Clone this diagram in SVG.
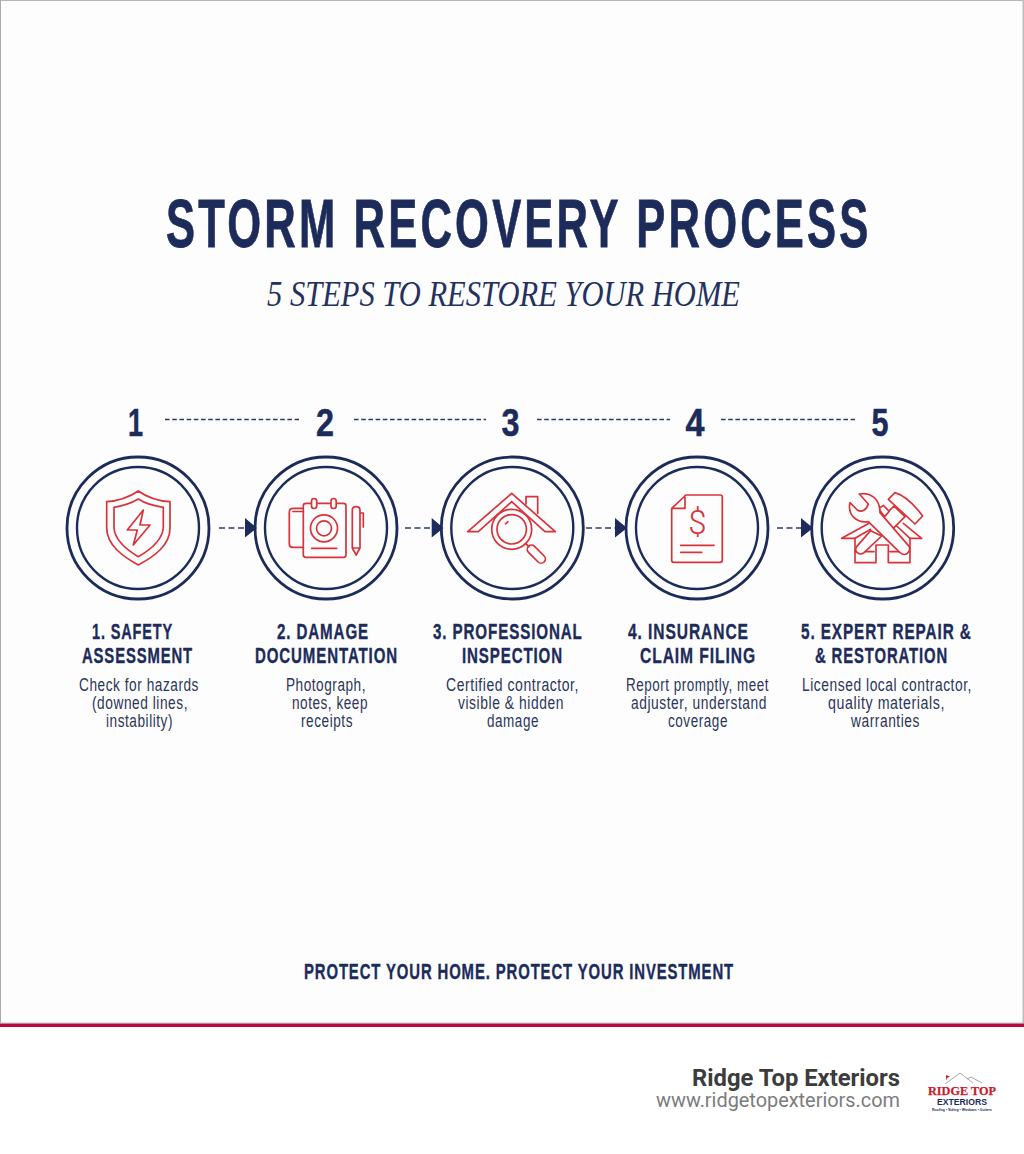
<svg xmlns="http://www.w3.org/2000/svg" width="1024" height="1154" viewBox="0 0 1024 1154">
<defs>
<style>
text{font-family:"Liberation Sans",Arial,sans-serif;fill:#1c2b5a}
.h{font-weight:700;font-size:22px;letter-spacing:1.3px;stroke:#1c2b5a;stroke-width:.35px}
.b{font-size:17.500px;letter-spacing:.7px;fill:#2b3659}
.n{font-weight:700;font-size:39px;stroke:#1c2b5a;stroke-width:.5px}
.o{fill:none;stroke:#1c2b5a;stroke-width:2.8}
.i{fill:none;stroke:#1c2b5a;stroke-width:2.4}
.r{fill:none;stroke:#d9333a;stroke-width:1.7;stroke-linejoin:round;stroke-linecap:round}
.t{fill:none;stroke:#d9333a;stroke-width:5;stroke-linejoin:round;stroke-linecap:round}
.d{fill:none;stroke:#2c3a66;stroke-width:1.3;stroke-dasharray:4.6 2.6}
.a{fill:none;stroke:#2c3a66;stroke-width:1.6;stroke-dasharray:6 3.5}
.ah{fill:#1c2b5a}
</style>
</defs>
<rect width="1024" height="1154" fill="#ffffff"/>
<rect width="1024" height="1024" fill="#fdfdfe"/>
<g id="frame">
<rect x="0" y="0" width="1024" height="1" fill="#b4b6b8"/>
<rect x="0" y="0" width="1" height="1023" fill="#a9abad"/>
<rect x="1022.5" y="0" width="1.5" height="1023" fill="#bcbdbe"/>
<rect x="0" y="1022.6" width="1024" height="1" fill="#b4b6b8"/>
<rect x="0" y="1023.6" width="1024" height="3.4" fill="#b8093f"/>
</g>
<g id="heading">
<text transform="translate(166 247) scale(.64 1)" font-size="68" font-weight="700" style="letter-spacing:5px;stroke:#1c2b5a;stroke-width:.8px">STORM RECOVERY PROCESS</text>
<text x="267" y="306" font-size="35" font-style="italic" textLength="473" lengthAdjust="spacingAndGlyphs" style="font-family:'Liberation Serif','Times New Roman',serif;fill:#24315f">5 STEPS TO RESTORE YOUR HOME</text>
</g>
<g id="step-1">
<text class="n" x="128" y="436" textLength="15" lengthAdjust="spacingAndGlyphs">1</text>
<circle class="o" cx="138" cy="528" r="71"/><circle class="i" cx="138" cy="528" r="61"/>
<path class="r" d="M138.3 491C128 498 118 501 106.7 501.7V528C107 545 122 556 138.3 565C155 556 170 545 170 528V501.7C158 501 148 498 138.3 491Z"/>
<path class="r" d="M138.3 499C130 504 122 506 114 507.3V528C115 541 127 550 138.3 556.7C150 550 162 541 163.3 528V507.3C154 506 146 504 138.3 499Z"/>
<path class="r" d="M143.3 510L127.3 530H137.3L133.3 545L150 525H140Z"/>
<text class="h" x="92" y="639" textLength="81" lengthAdjust="spacingAndGlyphs">1. SAFETY</text>
<text class="h" x="82" y="663" textLength="111" lengthAdjust="spacingAndGlyphs">ASSESSMENT</text>
<text class="b" x="79" y="691" textLength="120" lengthAdjust="spacingAndGlyphs">Check for hazards</text>
<text class="b" x="92" y="709" textLength="96" lengthAdjust="spacingAndGlyphs">(downed lines,</text>
<text class="b" x="106" y="727" textLength="67" lengthAdjust="spacingAndGlyphs">instability)</text>
</g>
<g id="step-2">
<text class="n" x="316" y="436" textLength="18" lengthAdjust="spacingAndGlyphs">2</text>
<circle class="o" cx="326" cy="528" r="71"/><circle class="i" cx="326" cy="528" r="61"/>
<rect class="r" x="303.3" y="503.3" width="42.7" height="54" rx="2.5"/>
<rect class="r" x="311.5" y="498.5" width="5.2" height="10" rx="2.6" style="fill:#fdfdfe"/>
<rect class="r" x="331" y="498.5" width="5.2" height="10" rx="2.6" style="fill:#fdfdfe"/>
<circle class="r" cx="324" cy="528.3" r="13.5"/><circle class="r" cx="324" cy="528.3" r="7.5"/>
<path class="r" d="M311.7 548.3H336.7"/>
<path class="r" d="M303.3 547.3H292.5Q289.3 547.3 289.3 544V512Q289.3 508.3 293 508.3H303.3M293 511.5H303.3"/>
<path class="r" d="M352.3 548V510.5Q352.3 506.7 356.2 506.7Q360 506.7 360 510.5V548L356.2 555ZM352.3 548H360M360 513H363.3V527"/>
<text class="h" x="277" y="639" textLength="92" lengthAdjust="spacingAndGlyphs">2. DAMAGE</text>
<text class="h" x="255" y="663" textLength="143" lengthAdjust="spacingAndGlyphs">DOCUMENTATION</text>
<text class="b" x="286" y="691" textLength="80" lengthAdjust="spacingAndGlyphs">Photograph,</text>
<text class="b" x="292" y="709" textLength="76" lengthAdjust="spacingAndGlyphs">notes, keep</text>
<text class="b" x="301" y="727" textLength="52" lengthAdjust="spacingAndGlyphs">receipts</text>
</g>
<g id="step-3">
<text class="n" x="501.500" y="436" textLength="18" lengthAdjust="spacingAndGlyphs">3</text>
<circle class="o" cx="512.300" cy="528" r="71"/><circle class="i" cx="512.300" cy="528" r="61"/>
<path class="r" d="M511.7 493.300L467.700 531.700H478.300L511.700 501.700L545 531.700H555.300Z"/>
<path class="r" d="M526 504V496.700H537.700V513.300"/>
<circle class="r" cx="511.700" cy="529.300" r="20" style="fill:#fdfdfe"/><circle class="r" cx="511.700" cy="529.300" r="14.700"/>
<path class="r" d="M525.500 543.500L529 546.700"/>
<rect class="r" x="525.500" y="550" width="22" height="8.500" rx="4.200" transform="rotate(45 536.500 554)"/>
<path class="r" d="M508 521.700L505.500 523.800"/>
<text class="h" transform="translate(433 639) scale(.689 1)">3. PROFESSIONAL</text>
<text class="h" x="462" y="663" textLength="101" lengthAdjust="spacingAndGlyphs">INSPECTION</text>
<text class="b" x="446" y="691" textLength="133" lengthAdjust="spacingAndGlyphs">Certified contractor,</text>
<text class="b" x="458" y="709" textLength="106" lengthAdjust="spacingAndGlyphs">visible &amp; hidden</text>
<text class="b" x="487" y="727" textLength="52" lengthAdjust="spacingAndGlyphs">damage</text>
</g>
<g id="step-4">
<text class="n" x="685.500" y="436" textLength="19" lengthAdjust="spacingAndGlyphs">4</text>
<circle class="o" cx="697" cy="528" r="71"/><circle class="i" cx="697" cy="528" r="61"/>
<path class="r" d="M686 495H720.300Q722.300 495 722.300 497V560.300Q722.300 562.300 720.300 562.300H673.700Q671.700 562.300 671.700 560.300V508.300ZM671.700 508.300H685V495.500"/>
<text x="697.300" y="534" font-size="33" text-anchor="middle" style="font-family:Roboto,'Liberation Sans',sans-serif;font-weight:300;fill:#d9333a">$</text>
<path class="r" d="M680.700 545.300H714M680.700 552.300H701.700"/>
<text class="h" transform="translate(628 639) scale(.708 1)">4. INSURANCE</text>
<text class="h" x="640" y="663" textLength="116" lengthAdjust="spacingAndGlyphs">CLAIM FILING</text>
<text class="b" x="626" y="691" textLength="143" lengthAdjust="spacingAndGlyphs">Report promptly, meet</text>
<text class="b" x="631" y="709" textLength="136" lengthAdjust="spacingAndGlyphs">adjuster, understand</text>
<text class="b" x="668" y="727" textLength="60" lengthAdjust="spacingAndGlyphs">coverage</text>
</g>
<g id="step-5">
<text class="n" x="871.500" y="436" textLength="17" lengthAdjust="spacingAndGlyphs">5</text>
<circle class="o" cx="882.700" cy="528" r="71"/><circle class="i" cx="882.700" cy="528" r="61"/>
<g transform="translate(740 400) scale(.3333)">
<path class="t" d="M390 368L305 415H345V488H408V435H445V488H510V415H545L490 370"/>
<path class="t" d="M345 415L392 388M510 415L470 378M345 455H402M450 455H510"/>
<path class="t" style="fill:#fdfdfe" d="M392 392L350 440Q343 450 352 458Q362 466 372 458L425 408Z"/>
<path class="t" style="fill:#fdfdfe" d="M462 318L425 355L460 385L495 350Z"/>
<path class="t" style="fill:#fdfdfe" d="M416 326L430 316L448 334L434 350Z"/>
<path class="t" style="fill:#fdfdfe" d="M445 298L465 278Q505 290 548 348L525 372Z"/>
<path class="t" style="fill:#fdfdfe" d="M358 282C390 276 420 295 420 338L508 440Q512 452 502 460Q492 468 480 458L385 365C350 370 322 345 330 308L352 330C365 338 380 330 385 312Z"/>
</g>
<text class="h" transform="translate(801 639) scale(.696 1)">5. EXPERT REPAIR &amp;</text>
<text class="h" x="815" y="663" textLength="133" lengthAdjust="spacingAndGlyphs">&amp; RESTORATION</text>
<text class="b" x="802" y="691" textLength="170" lengthAdjust="spacingAndGlyphs">Licensed local contractor,</text>
<text class="b" x="828" y="709" textLength="117" lengthAdjust="spacingAndGlyphs">quality materials,</text>
<text class="b" x="851" y="727" textLength="69" lengthAdjust="spacingAndGlyphs">warranties</text>
</g>
<g id="connectors">
<path class="d" d="M165 419.500H299M354 419.500H486M537 419.500H670M721 419.500H855"/>
<path class="a" d="M219 528H245M405 528H432M586 528H615M777 528H801"/>
<path class="ah" d="M245 518L257 528L245 537.500ZM431.700 518L443.500 528L431.700 537.500ZM615 518L627 528L615 537.500ZM801 518L813 528L801 537.500Z"/>
</g>
<g id="tagline">
<text class="h" x="304" y="979" textLength="430" lengthAdjust="spacingAndGlyphs">PROTECT YOUR HOME. PROTECT YOUR INVESTMENT</text>
</g>
<g id="footer">
<text x="692" y="1086" font-size="24" font-weight="700" textLength="208" lengthAdjust="spacingAndGlyphs" style="font-family:Roboto,sans-serif;fill:#3c3c3c">Ridge Top Exteriors</text>
<text x="656" y="1107" font-size="21" textLength="244" lengthAdjust="spacingAndGlyphs" style="font-family:Roboto,sans-serif;fill:#7c7c7c">www.ridgetopexteriors.com</text>
</g>
<g id="logo">
<path d="M945 1084L960 1073L973 1083M967 1079L971 1077L982 1083" fill="none" stroke="#8a8d94" stroke-width=".8"/>
<path d="M946 1081V1075L950 1076.500L947 1078Z" fill="#c8202f"/>
<text x="928" y="1095" font-size="13" font-weight="700" textLength="68" lengthAdjust="spacingAndGlyphs" style="font-family:'Liberation Serif',serif;fill:#c8202f;stroke:#c8202f;stroke-width:.25px">RIDGE TOP</text>
<text x="937" y="1104.500" font-size="9" font-weight="700" textLength="50" lengthAdjust="spacingAndGlyphs" style="fill:#1c2b5a">EXTERIORS</text>
<text x="932" y="1110.500" font-size="3.800" font-weight="700" textLength="60" lengthAdjust="spacingAndGlyphs" style="fill:#1c2b5a">Roofing • Siding • Windows • Gutters</text>
</g>
</svg>
